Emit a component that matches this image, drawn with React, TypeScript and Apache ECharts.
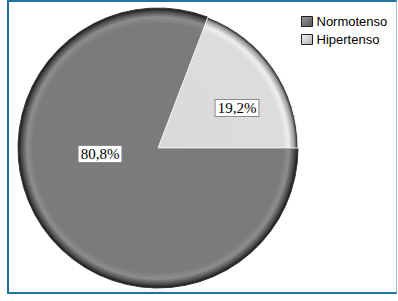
import React, { useEffect, useRef } from "react";
import * as echarts from "echarts";

const categories = ["Normotenso", "Hipertenso"];
const values = [80.8, 19.2];
const labels = ["80,8%", "19,2%"];

const CX = 158;
const CY = 148;
const R = 140;

export default function App() {
  const ref = useRef<HTMLDivElement>(null);
  useEffect(() => {
    if (!ref.current) return;
    const chart = echarts.init(ref.current, null, { renderer: "svg" });
    const darkFill = new echarts.graphic.RadialGradient(CX, CY, R, [
      { offset: 0, color: "#7b7b7b" },
      { offset: 0.89, color: "#7b7b7b" },
      { offset: 0.935, color: "#8d8d8d" },
      { offset: 0.975, color: "#4a4a4a" },
      { offset: 1, color: "#111111" },
    ], true);
    const lightFill = new echarts.graphic.RadialGradient(CX, CY, R, [
      { offset: 0, color: "#dadada" },
      { offset: 0.89, color: "#dcdcdc" },
      { offset: 0.935, color: "#eeeeee" },
      { offset: 0.975, color: "#9a9a9a" },
      { offset: 1, color: "#111111" },
    ], true);
    const labelPos = [
      [100, 154],
      [237, 108],
    ];
    chart.setOption({
      animation: false,
      backgroundColor: "#ffffff",
      legend: {
        orient: "vertical",
        left: 301,
        top: 15,
        padding: 0,
        itemWidth: 11,
        itemHeight: 10,
        itemGap: 5,
        icon: "rect",
        textStyle: { fontFamily: "Liberation Sans, Arial", fontSize: 13, color: "#000", padding: [0, 0, 0, -1] },
        data: [
          {
            name: categories[0],
            itemStyle: {
              color: new echarts.graphic.LinearGradient(0, 0, 1, 1, [
                { offset: 0, color: "#9a9a9a" },
                { offset: 1, color: "#555555" },
              ]),
              borderColor: "#222",
              borderWidth: 1,
            },
          },
          {
            name: categories[1],
            itemStyle: {
              color: new echarts.graphic.LinearGradient(0, 0, 1, 1, [
                { offset: 0, color: "#f4f4f4" },
                { offset: 1, color: "#b0b0b0" },
              ]),
              borderColor: "#222",
              borderWidth: 1,
            },
          },
        ],
      },
      series: [
        {
          type: "pie",
          center: [CX, CY],
          radius: [0, R],
          startAngle: 0,
          clockwise: true,
          silent: true,
          labelLine: { show: false },
          label: {
            show: true,
            position: "inside",
            formatter: (p: any) => labels[p.dataIndex],
            fontFamily: "Liberation Serif, Times New Roman, serif",
            fontSize: 15,
            color: "#000",
            backgroundColor: "#ffffff",
            borderColor: "#8a8a8a",
            borderWidth: 1,
            padding: [1, 2, 0, 2],
          },
          labelLayout: (p: any) => ({
            x: labelPos[p.dataIndex][0],
            y: labelPos[p.dataIndex][1],
            align: "center",
            verticalAlign: "middle",
          }),
          data: [
            {
              name: categories[0],
              value: values[0],
              itemStyle: { color: darkFill, borderColor: "#3a3a3a", borderWidth: 1 },
            },
            {
              name: categories[1],
              value: values[1],
              itemStyle: { color: lightFill, borderColor: "#f8f8f8", borderWidth: 1 },
            },
          ],
        },
      ],
    });
    return () => chart.dispose();
  }, []);
  return (
    <div style={{ position: "fixed", left: 0, top: 0, width: 398, height: 301, background: "#fff" }}>
      <div ref={ref} style={{ position: "absolute", left: 0, top: 0, width: 398, height: 301 }} />
      <div
        style={{
          position: "absolute",
          left: 7,
          top: 0,
          width: 390,
          height: 294,
          boxSizing: "border-box",
          borderLeft: "2px solid #1e73a2",
          borderTop: "2px solid #1e73a2",
          borderBottom: "2px solid #1e73a2",
          borderRight: "1px solid #a9bfcf",
          pointerEvents: "none",
        }}
      />
    </div>
  );
}
